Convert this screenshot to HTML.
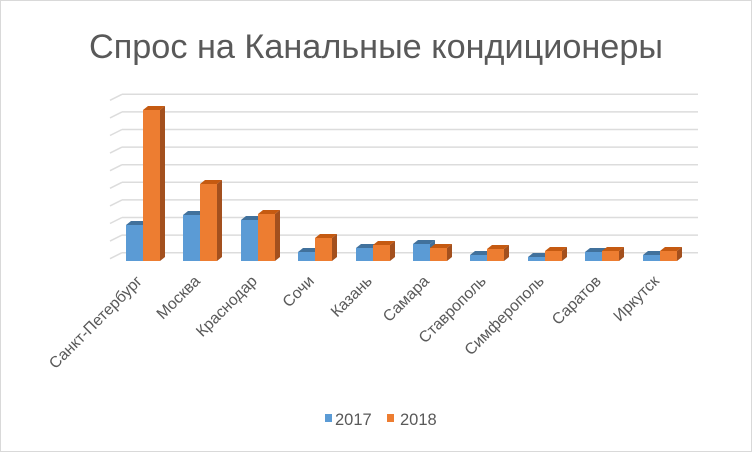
<!DOCTYPE html>
<html><head><meta charset="utf-8">
<style>
html,body{margin:0;padding:0;background:#fff;}
svg{display:block;}
text{font-family:"Liberation Sans",sans-serif;fill:#595959;}
</style></head><body>
<svg width="752" height="452" viewBox="0 0 752 452">
<rect x="0.5" y="0.5" width="751" height="451" fill="#fff" stroke="#d9d9d9"/>
<text x="376" y="58" font-size="34" text-anchor="middle" textLength="574" lengthAdjust="spacingAndGlyphs">Спрос на Канальные кондиционеры</text>
<g stroke="#dcdcdc" stroke-width="1.5" fill="none">
<path d="M122 94.3H698 M110 100.3L122 94.3"/>
<path d="M122 111.9H698 M110 117.9L122 111.9"/>
<path d="M122 129.5H698 M110 135.5L122 129.5"/>
<path d="M122 147.1H698 M110 153.1L122 147.1"/>
<path d="M122 164.7H698 M110 170.7L122 164.7"/>
<path d="M122 182.3H698 M110 188.3L122 182.3"/>
<path d="M122 199.9H698 M110 205.9L122 199.9"/>
<path d="M122 217.5H698 M110 223.5L122 217.5"/>
<path d="M122 235.1H698 M110 241.1L122 235.1"/>
<path d="M122 252.7H698 M110 258.7L122 252.7"/>
</g>
<g font-size="15.8">
<text transform="translate(143,282) rotate(-45)" text-anchor="end">Санкт-Петербург</text>
<text transform="translate(201,282) rotate(-45)" text-anchor="end">Москва</text>
<text transform="translate(258,282) rotate(-45)" text-anchor="end">Краснодар</text>
<text transform="translate(315,282) rotate(-45)" text-anchor="end">Сочи</text>
<text transform="translate(373,282) rotate(-45)" text-anchor="end">Казань</text>
<text transform="translate(430,282) rotate(-45)" text-anchor="end">Самара</text>
<text transform="translate(487,282) rotate(-45)" text-anchor="end">Ставрополь</text>
<text transform="translate(545,282) rotate(-45)" text-anchor="end">Симферополь</text>
<text transform="translate(602,282) rotate(-45)" text-anchor="end">Саратов</text>
<text transform="translate(660,282) rotate(-45)" text-anchor="end">Иркутск</text>
</g>
<rect x="325" y="414" width="7" height="8" fill="#5b9bd5"/>
<text x="335" y="425" font-size="16.5">2017</text>
<rect x="387" y="414" width="7" height="8" fill="#ed7d31"/>
<text x="400" y="425" font-size="16.5">2018</text>

<g>
<rect x="126" y="225" width="17" height="36" fill="#5b9bd5"/><polygon points="126,225 131,221 148,221 143,225" fill="#41719c"/>
<rect x="143" y="110" width="17" height="151" fill="#ed7d31"/><polygon points="143,110 148,106 165,106 160,110" fill="#c55a11"/><polygon points="160,110 165,106 165,257 160,261" fill="#a3501e"/>
<rect x="183" y="215" width="17" height="46" fill="#5b9bd5"/><polygon points="183,215 188,211 205,211 200,215" fill="#41719c"/>
<rect x="200" y="184" width="17" height="77" fill="#ed7d31"/><polygon points="200,184 205,180 222,180 217,184" fill="#c55a11"/><polygon points="217,184 222,180 222,257 217,261" fill="#a3501e"/>
<rect x="241" y="220" width="17" height="41" fill="#5b9bd5"/><polygon points="241,220 246,216 263,216 258,220" fill="#41719c"/>
<rect x="258" y="214" width="17" height="47" fill="#ed7d31"/><polygon points="258,214 263,210 280,210 275,214" fill="#c55a11"/><polygon points="275,214 280,210 280,257 275,261" fill="#a3501e"/>
<rect x="298" y="252" width="17" height="9" fill="#5b9bd5"/><polygon points="298,252 303,248 320,248 315,252" fill="#41719c"/>
<rect x="315" y="238" width="17" height="23" fill="#ed7d31"/><polygon points="315,238 320,234 337,234 332,238" fill="#c55a11"/><polygon points="332,238 337,234 337,257 332,261" fill="#a3501e"/>
<rect x="356" y="248" width="17" height="13" fill="#5b9bd5"/><polygon points="356,248 361,244 378,244 373,248" fill="#41719c"/>
<rect x="373" y="245" width="17" height="16" fill="#ed7d31"/><polygon points="373,245 378,241 395,241 390,245" fill="#c55a11"/><polygon points="390,245 395,241 395,257 390,261" fill="#a3501e"/>
<rect x="413" y="244" width="17" height="17" fill="#5b9bd5"/><polygon points="413,244 418,240 435,240 430,244" fill="#41719c"/><polygon points="430,244 435,240 435,257 430,261" fill="#41719c"/>
<rect x="430" y="248" width="17" height="13" fill="#ed7d31"/><polygon points="430,248 435,244 452,244 447,248" fill="#c55a11"/><polygon points="447,248 452,244 452,257 447,261" fill="#a3501e"/>
<rect x="470" y="255" width="17" height="6" fill="#5b9bd5"/><polygon points="470,255 475,251 492,251 487,255" fill="#41719c"/>
<rect x="487" y="249" width="17" height="12" fill="#ed7d31"/><polygon points="487,249 492,245 509,245 504,249" fill="#c55a11"/><polygon points="504,249 509,245 509,257 504,261" fill="#a3501e"/>
<rect x="528" y="257" width="17" height="4" fill="#5b9bd5"/><polygon points="528,257 533,253 550,253 545,257" fill="#41719c"/>
<rect x="545" y="251" width="17" height="10" fill="#ed7d31"/><polygon points="545,251 550,247 567,247 562,251" fill="#c55a11"/><polygon points="562,251 567,247 567,257 562,261" fill="#a3501e"/>
<rect x="585" y="252" width="17" height="9" fill="#5b9bd5"/><polygon points="585,252 590,248 607,248 602,252" fill="#41719c"/>
<rect x="602" y="251" width="17" height="10" fill="#ed7d31"/><polygon points="602,251 607,247 624,247 619,251" fill="#c55a11"/><polygon points="619,251 624,247 624,257 619,261" fill="#a3501e"/>
<rect x="643" y="255" width="17" height="6" fill="#5b9bd5"/><polygon points="643,255 648,251 665,251 660,255" fill="#41719c"/>
<rect x="660" y="251" width="17" height="10" fill="#ed7d31"/><polygon points="660,251 665,247 682,247 677,251" fill="#c55a11"/><polygon points="677,251 682,247 682,257 677,261" fill="#a3501e"/>
</g>
</svg>
</body></html>
